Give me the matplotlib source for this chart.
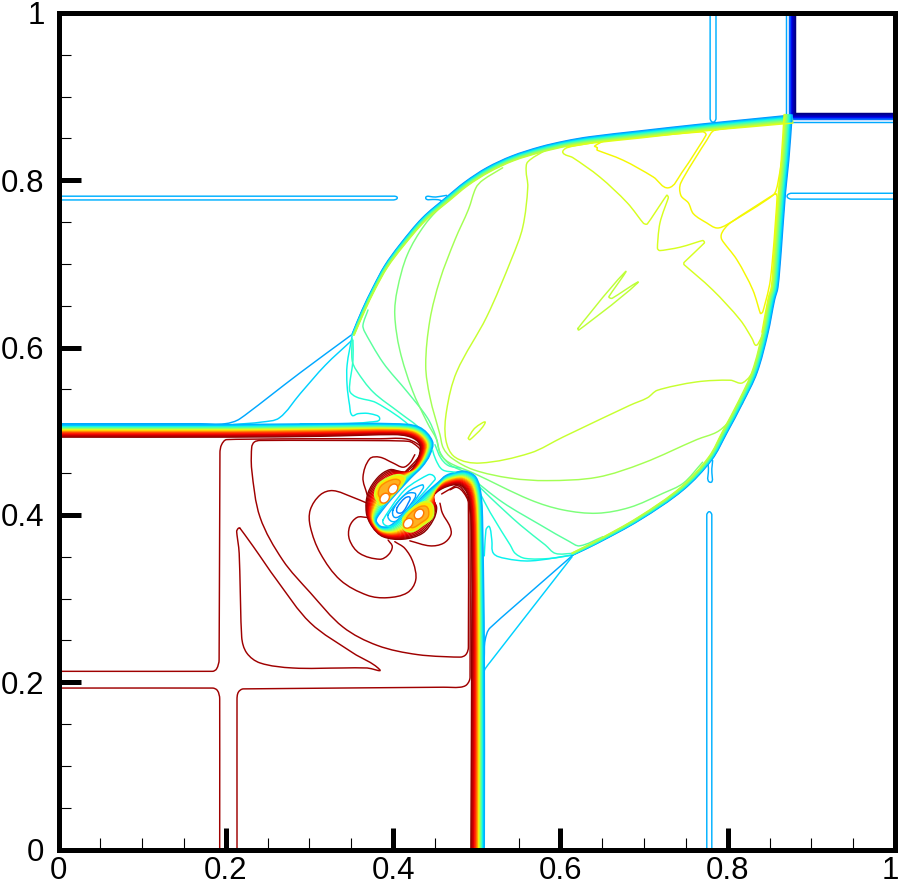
#!/usr/bin/env python3
"""
Contour lines of a 2D Riemann problem (density), redrawn from digitized lines.
Each contour is a short x/y list in domain units with a colour level on jet.
"""

import numpy as np
import matplotlib
matplotlib.use('Agg')
import matplotlib.pyplot as plt
from matplotlib.patches import PathPatch, Ellipse
from matplotlib.path import Path
from matplotlib.transforms import ScaledTranslation

plt.rcParams['font.family'] = ['Liberation Sans', 'DejaVu Sans']

# Tick values
major_ticks = [0, 0.2, 0.4, 0.6, 0.8, 1]
major_labels = ['0', '0.2', '0.4', '0.6', '0.8', '1']
minor_ticks = [0.05, 0.1, 0.15, 0.25, 0.3, 0.35, 0.45, 0.5, 0.55, 0.65, 0.7, 0.75, 0.85, 0.9, 0.95]

# Bow shock around the upper right region, index 16 is the corner
shock_x = [.351, .363, .376, .390, .408, .435, .464, .486, .512, .542, .576, .606, .635, .695, .767, .827, .877,
           .873, .869, .864, .860, .856, .848, .835, .818, .799, .781, .747, .695, .644, .615]
shock_y = [.616, .645, .672, .698, .723, .755, .780, .798, .815, .829, .840, .847, .852, .859, .867, .873, .878,
           .824, .785, .717, .672, .657, .617, .570, .534, .498, .466, .430, .394, .366, .352]
shock_width = np.array([2.5, 3, 3, 3.5, 4, 4.5, 5, 5, 5.5, 5.5, 6, 6, 6.5, 7, 7, 7.5, 8,
                        7.5, 7, 7, 6.5, 6.5, 6, 5.5, 5, 5, 4.5, 4, 3.5, 3, 2.5]) * 0.0012
shock_levels = [.27, .30, .33, .36, .40, .44, .48, .52, .55, .58]
shock_inner_levels = [.62]

# Upper right corner shock, stacked lines
corner_x = .880
corner_y = .880
corner_offsets = [0, .001, .002, .003, .004, .005, .006, .0065, .0105]
corner_levels = [0, .02, .04, .06, .09, .13, .18, .23, .29]

# Slip line from the left edge, around the mushroom, down to the bottom edge
slip_outer_x = [0, .205, .313, .400, .421, .432, .430, .419, .408, .396, .382, .370, .368, .375,
                .388, .412, .435, .448, .452, .447, .456, .472, .481, .488, .492, .494, .494, .493]
slip_outer_y = [.493, .493, .494, .496, .493, .484, .468, .451, .452, .454, .445, .426, .403, .386,
                .374, .371, .378, .394, .409, .420, .430, .436, .435, .427, .412, .370, .239, 0]
slip_inner_x = [0, .205, .313, .400, .431, .447, .444, .435, .421, .409, .399, .389, .381, .380,
                .386, .396, .411, .425, .439, .454, .463, .475, .487, .499, .505, .507, .509, .509]
slip_inner_y = [.508, .508, .509, .509, .505, .488, .472, .458, .444, .431, .420, .408, .397, .392,
                .386, .387, .399, .412, .426, .439, .447, .451, .452, .445, .425, .388, .239, 0]
slip_levels = [.99, .97, .95, .93, .91, .89, .86, .82, .77, .72, .66, .60, .54, .48, .42, .37, .33, .30]

# Rolled up lobes of the mushroom
lobe_up_x = [.382, .378, .382, .393, .406, .414, .412, .402, .390, .384, .382]
lobe_up_y = [.415, .424, .436, .444, .448, .445, .438, .426, .414, .412, .415]
lobe_low_x = [.412, .423, .435, .444, .448, .447, .436, .423, .414, .412, .412]
lobe_low_y = [.396, .408, .415, .415, .409, .397, .388, .380, .382, .388, .396]
hole_x = [.390, .400, .418, .431]
hole_y = [.420, .431, .390, .401]

# Closed contours in the stem between the lobes
stem1_x = [.405, .414, .420, .418, .411, .405, .405]
stem1_y = [.409, .420, .421, .414, .403, .403, .409]
stem2_x = [.400, .414, .426, .426, .412, .402, .400]
stem2_y = [.406, .424, .426, .420, .402, .397, .406]
stem3_x = [.394, .417, .435, .436, .411, .399, .394]
stem3_y = [.400, .427, .436, .432, .397, .392, .400]
stem4_x = [.388, .414, .442, .448, .450, .414, .400, .390, .388]
stem4_y = [.394, .430, .448, .447, .442, .402, .387, .388, .394]
stair1_x = [.447, .451, .459, .474]
stair1_y = [.478, .466, .454, .451]
stair2_x = [.450, .457, .466, .480]
stair2_y = [.484, .468, .459, .456]

# Thin blue slits
slit_left_x = [0, .400, .404, .405, .404, .400, 0]
slit_left_y = [.781, .781, .7805, .779, .7775, .7765, .7765]
slit_top_x = [.779, .779, .781, .784, .786, .786]
slit_top_y = [1, .874, .870, .870, .874, 1]
slit_right_x = [1, .876, .872, .871, .872, .876, 1]
slit_right_y = [.7845, .7845, .783, .781, .779, .7775, .7775]
slit_bottom_x = [.775, .775, .777, .779, .781, .781]
slit_bottom_y = [0, .400, .4035, .4035, .400, 0]
notch_left_x = [.464, .451, .439, .451, .457, .459]
notch_left_y = [.782, .780, .779, .777, .776, .773]
notch_bottom_x = [.776, .777, .779, .781, .782]
notch_bottom_y = [.465, .456, .439, .455, .465]

# Lines fanning out of the triple points
fan1_x = [0, .169, .199, .217, .289, .350]
fan1_y = [.509, .509, .509, .515, .570, .615]
fan2_x = [.209, .243, .264, .289, .319, .351]
fan2_y = [.508, .511, .516, .545, .579, .609]
fan3_x = [.351, .345, .345, .348, .351, .358, .372, .384, .372, .337, .289]
fan3_y = [.614, .579, .555, .531, .519, .521, .521, .515, .511, .509, .509]
fan4_x = [.352, .352, .348, .356, .380, .418, .408, .368]
fan4_y = [.609, .585, .549, .541, .534, .508, .505, .506]
fan5_x = [.351, .351, .356, .376, .408, .432, .423, .408]
fan5_y = [.611, .585, .573, .547, .522, .503, .503, .505]
fan6_x = [.370, .364, .366, .388, .417, .441, .451, .456, .468, .486, .494, .531, .576, .611, .623, .651]
fan6_y = [.645, .627, .619, .582, .547, .516, .494, .475, .460, .451, .444, .415, .388, .368, .363, .374]
fan7_x = [.464, .438, .417, .405, .402, .408, .423, .441, .452, .457, .468, .496, .564, .603, .644, .683, .723,
          .747, .770]
fan7_y = [.776, .747, .711, .669, .639, .597, .549, .510, .490, .472, .462, .450, .418, .406, .402, .409, .426,
          .438, .463]
fan8_x = [.531, .507, .499, .490, .474, .456, .444, .439, .444, .456, .460, .470, .496, .540, .584, .644, .699,
          .763, .787, .800, .818]
fan8_y = [.815, .800, .791, .765, .729, .681, .633, .579, .541, .496, .480, .468, .454, .444, .441, .445, .462,
          .490, .499, .510, .534]
fan9_x = [.582, .561, .559, .561, .555, .542, .512, .476, .464, .463, .474, .504, .564, .603, .683, .704, .716,
          .763, .803, .818, .833, .839]
fan9_y = [.836, .822, .812, .792, .744, .707, .637, .571, .525, .490, .469, .462, .474, .493, .531, .540, .549,
          .559, .561, .558, .577, .603]
low1_x = [.496, .516, .552, .582, .594, .615]
low1_y = [.441, .421, .388, .364, .354, .354]
low2_x = [.502, .516, .540, .546, .558, .588, .615]
low2_y = [.430, .403, .364, .354, .348, .348, .352]
low3_x = [.509, .511, .515, .518, .520, .534, .564, .614]
low3_y = [.351, .382, .386, .370, .354, .348, .345, .352]
low4_x = [.509, .510, .516, .615]
low4_y = [.230, .250, .265, .352]
low5_x = [.507, .508, .516, .614]
low5_y = [.182, .211, .224, .350]

# Upper right star pattern
star1_x = [.785, .869, .871, .860, .854, .799, .787, .775, .759, .753, .744, .744, .775, .785]
star1_y = [.860, .869, .864, .797, .782, .747, .743, .749, .760, .773, .782, .797, .848, .860]
star2_x = [.644, .641, .656, .770, .774, .745, .729, .711, .675, .644, .644]
star2_y = [.839, .841, .848, .858, .854, .809, .791, .804, .824, .836, .839]
star3_x = [.857, .859, .851, .842, .839, .830, .811, .793, .793, .803, .857]
star3_y = [.784, .779, .681, .643, .641, .669, .705, .729, .737, .749, .784]
star4_x = [.639, .608, .603, .615, .647, .680, .699, .704, .727, .729, .719, .716, .719, .743, .770, .772, .748,
           .748, .782, .815, .829, .833, .836, .847]
star4_y = [.845, .839, .833, .827, .804, .773, .749, .748, .782, .779, .749, .719, .716, .720, .728, .725, .702,
           .699, .669, .633, .611, .603, .604, .625]
wedge_x = [.621, .622, .692, .662, .658, .677, .621]
wedge_y = [.623, .621, .677, .659, .661, .690, .623]
leaf_x = [.490, .492, .510, .498, .490]
leaf_y = [.492, .490, .510, .504, .492]

# Dark red contours in the lower left
red1_x = [0, .184, .189, .192, .193, .195, .201, .289, .384, .414, .429, .436, .432, .420, .412]
red1_y = [.213, .213, .216, .227, .474, .484, .490, .491, .491, .491, .485, .476, .467, .455, .448]
red2_x = [.468, .476, .484, .490, .490, .487, .480, .429, .381, .340, .301, .268, .241, .231, .231, .234, .241,
          .340, .418, .430, .433, .429, .414]
red2_y = [.430, .433, .427, .414, .242, .233, .230, .233, .244, .266, .307, .346, .397, .454, .481, .487, .489,
          .489, .488, .481, .475, .467, .451]
red3_x = [.217, .215, .213, .216, .219, .225, .241, .280, .340, .369, .384, .352, .301, .261, .233, .217]
red3_y = [.384, .384, .380, .354, .254, .235, .223, .217, .217, .217, .215, .235, .271, .322, .362, .384]
red4_x = [0, .184, .190, .1927, .1927]
red4_y = [.193, .193, .190, .180, 0]
red5_x = [.2134, .2134, .215, .221, .460, .480, .488, .492, .492, .490, .482, .476, .470, .458]
red5_y = [0, .179, .188, .192, .194, .194, .197, .206, .394, .418, .432, .435, .432, .425]
blob1_x = [.369, .352, .328, .313, .301, .301, .313, .337, .369, .393, .417, .427, .424, .414, .402]
blob1_y = [.414, .421, .429, .424, .406, .386, .354, .322, .304, .301, .307, .322, .343, .360, .368]
blob2_x = [.369, .357, .348, .348, .360, .384, .394, .399, .394]
blob2_y = [.397, .397, .386, .370, .354, .347, .352, .362, .370]
blob3_x = [.369, .364, .372, .384, .400, .412, .420, .426]
blob3_y = [.424, .445, .467, .469, .462, .457, .462, .472]
blob4_x = [.456, .459, .468, .469, .460, .444, .420]
blob4_y = [.414, .402, .386, .376, .366, .363, .369]

# (colour level, x, y) for every single contour line
contours = [
    (.30, slit_left_x, slit_left_y), (.30, slit_top_x, slit_top_y),
    (.30, slit_right_x, slit_right_y), (.30, slit_bottom_x, slit_bottom_y),
    (.30, notch_left_x, notch_left_y), (.30, notch_bottom_x, notch_bottom_y),
    (.29, fan1_x, fan1_y), (.33, fan2_x, fan2_y), (.36, fan3_x, fan3_y),
    (.39, fan4_x, fan4_y), (.42, fan5_x, fan5_y), (.46, fan6_x, fan6_y),
    (.50, fan7_x, fan7_y), (.55, fan8_x, fan8_y), (.59, fan9_x, fan9_y),
    (.42, low1_x, low1_y), (.39, low2_x, low2_y), (.36, low3_x, low3_y),
    (.29, low4_x, low4_y), (.33, low5_x, low5_y),
    (.645, star1_x, star1_y), (.645, star2_x, star2_y), (.645, star3_x, star3_y),
    (.61, star4_x, star4_y), (.58, wedge_x, wedge_y), (.60, leaf_x, leaf_y),
    (.97, red1_x, red1_y), (.97, red2_x, red2_y), (.97, red3_x, red3_y),
    (.97, red4_x, red4_y), (.97, red5_x, red5_y),
    (.97, blob1_x, blob1_y), (.97, blob2_x, blob2_y), (.97, blob3_x, blob3_y), (.97, blob4_x, blob4_y),
]
stem_contours = [
    (.25, stem1_x, stem1_y), (.28, stem2_x, stem2_y), (.31, stem3_x, stem3_y),
    (.36, stem4_x, stem4_y), (.39, stair1_x, stair1_y), (.43, stair2_x, stair2_y),
]

LINE_WIDTH = 1.05


def smooth_path(x, y):
    """Bezier path through the given points, handles limited near very short neighbours."""
    pts = np.column_stack([x, y]).astype(float)
    closed = np.allclose(pts[0], pts[-1])
    n = len(pts)
    seg = np.linalg.norm(np.diff(pts, axis=0), axis=1)
    before = np.roll(pts, 1, axis=0)
    after = np.roll(pts, -1, axis=0)
    if closed:
        before[0] = pts[-2]
        after[-1] = pts[1]
    else:
        before[0] = pts[0]
        after[-1] = pts[-1]
    chord = after - before
    tangent = chord / np.maximum(np.linalg.norm(chord, axis=1, keepdims=True), 1e-9)
    verts = [pts[0]]
    codes = [Path.MOVETO]
    for i in range(n - 1):
        left = seg[i - 1] if i > 0 else seg[-1] if closed else seg[i]
        right = seg[i + 1] if i < n - 2 else seg[0] if closed else seg[i]
        h1 = min(seg[i], 2.5 * left) / 3
        h2 = min(seg[i], 2.5 * right) / 3
        verts += [pts[i] + tangent[i] * h1, pts[i + 1] - tangent[i + 1] * h2, pts[i + 1]]
        codes += [Path.CURVE4] * 3
    return Path(verts, codes)


def draw_line(ax, x, y, level, zorder=2, lw=LINE_WIDTH, facecolor='none'):
    """Draw one contour line coloured by its level."""
    patch = PathPatch(smooth_path(x, y), facecolor=facecolor, edgecolor=plt.cm.jet(level),
                      lw=lw, zorder=zorder, capstyle='round', joinstyle='round')
    ax.add_patch(patch)


def offset_branch(x, y, width, frac):
    """Shift a polyline to its right hand side by frac of the band width."""
    dx = np.gradient(x)
    dy = np.gradient(y)
    norm = np.hypot(dx, dy)
    return x + dy / norm * width * frac, y - dx / norm * width * frac


def draw_shock(ax):
    """Stack lines on the inner side of the bow shock, one branch each side of the corner."""
    x = np.array(shock_x)
    y = np.array(shock_y)
    count = len(shock_levels)
    for start, stop in [(0, 17), (16, 31)]:
        for i, level in enumerate(shock_levels):
            bx, by = offset_branch(x[start:stop], y[start:stop], shock_width[start:stop], i / count)
            draw_line(ax, bx, by, level, zorder=3)
    # Yellow lines only show on the strong part near the corner
    for start, stop in [(11, 17), (16, 23)]:
        for i, level in enumerate(shock_inner_levels):
            bx, by = offset_branch(x[start:stop], y[start:stop], shock_width[start:stop], (count + i) / count)
            draw_line(ax, bx, by, level, zorder=3)


def draw_slip(ax):
    """Slip line band, contour levels placed between the two digitized edges."""
    outer = np.column_stack([slip_outer_x, slip_outer_y])
    inner = np.column_stack([slip_inner_x, slip_inner_y])
    for i, level in enumerate(slip_levels):
        frac = i / (len(slip_levels) - 1)
        line = outer + (inner - outer) * frac
        draw_line(ax, line[:, 0], line[:, 1], level, zorder=4)


def draw_lobes(ax):
    """Cover the band inside the lobes and draw their rings and holes."""
    for x, y in [(lobe_up_x, lobe_up_y), (lobe_low_x, lobe_low_y)]:
        draw_line(ax, x, y, .60, zorder=5, lw=1.2, facecolor='#ffe600')
        x = np.array(x)
        y = np.array(y)
        draw_line(ax, x.mean() + (x - x.mean()) * .72, y.mean() + (y - y.mean()) * .72, .76,
                  zorder=5.2, facecolor='#ffb020')
    for x, y in zip(hole_x, hole_y):
        ax.add_patch(Ellipse((x, y), .013, .010, angle=50, facecolor='white',
                             edgecolor=plt.cm.jet(.78), lw=LINE_WIDTH, zorder=6))


def main():
    fig = plt.figure(figsize=(9.0, 8.85), dpi=100)
    ax = fig.add_axes([58.5 / 900, 35.5 / 885, 836.5 / 900, 836.5 / 885])

    for level, x, y in contours:
        draw_line(ax, x, y, level)

    # Corner shock
    for off, level in zip(corner_offsets, corner_levels):
        ax.plot([corner_x - off, corner_x - off, 1], [1, corner_y - off, corner_y - off],
                color=plt.cm.jet(level), lw=LINE_WIDTH, zorder=2.5, solid_joinstyle='miter')

    draw_shock(ax)
    draw_slip(ax)
    for level, x, y in stem_contours:
        draw_line(ax, x, y, level, zorder=4.5)
    draw_lobes(ax)

    # Axes, ticks only on the left and bottom
    ax.set_xlim(0, 1)
    ax.set_ylim(0, 1)
    ax.set_xticks(major_ticks, major_labels)
    ax.set_yticks(major_ticks, major_labels)
    ax.set_xticks(minor_ticks, minor=True)
    ax.set_yticks(minor_ticks, minor=True)
    ax.tick_params(which='major', direction='in', length=15.5, width=3.6, labelsize=22.5)
    ax.tick_params(which='minor', direction='in', length=8.5, width=0.8)
    ax.tick_params(axis='x', which='major', pad=5)
    ax.tick_params(axis='y', which='major', pad=10)
    for spine in ax.spines.values():
        spine.set_linewidth(3.6)
        spine.set_zorder(10)

    # Keep the last x label inside the figure
    last_label = ax.get_xticklabels()[-1]
    last_label.set_ha('right')
    last_label.set_transform(last_label.get_transform() + ScaledTranslation(4 / 100, 0, fig.dpi_scale_trans))

    fig.savefig('out.png', dpi=100)
    plt.close(fig)


if __name__ == "__main__":
    main()
